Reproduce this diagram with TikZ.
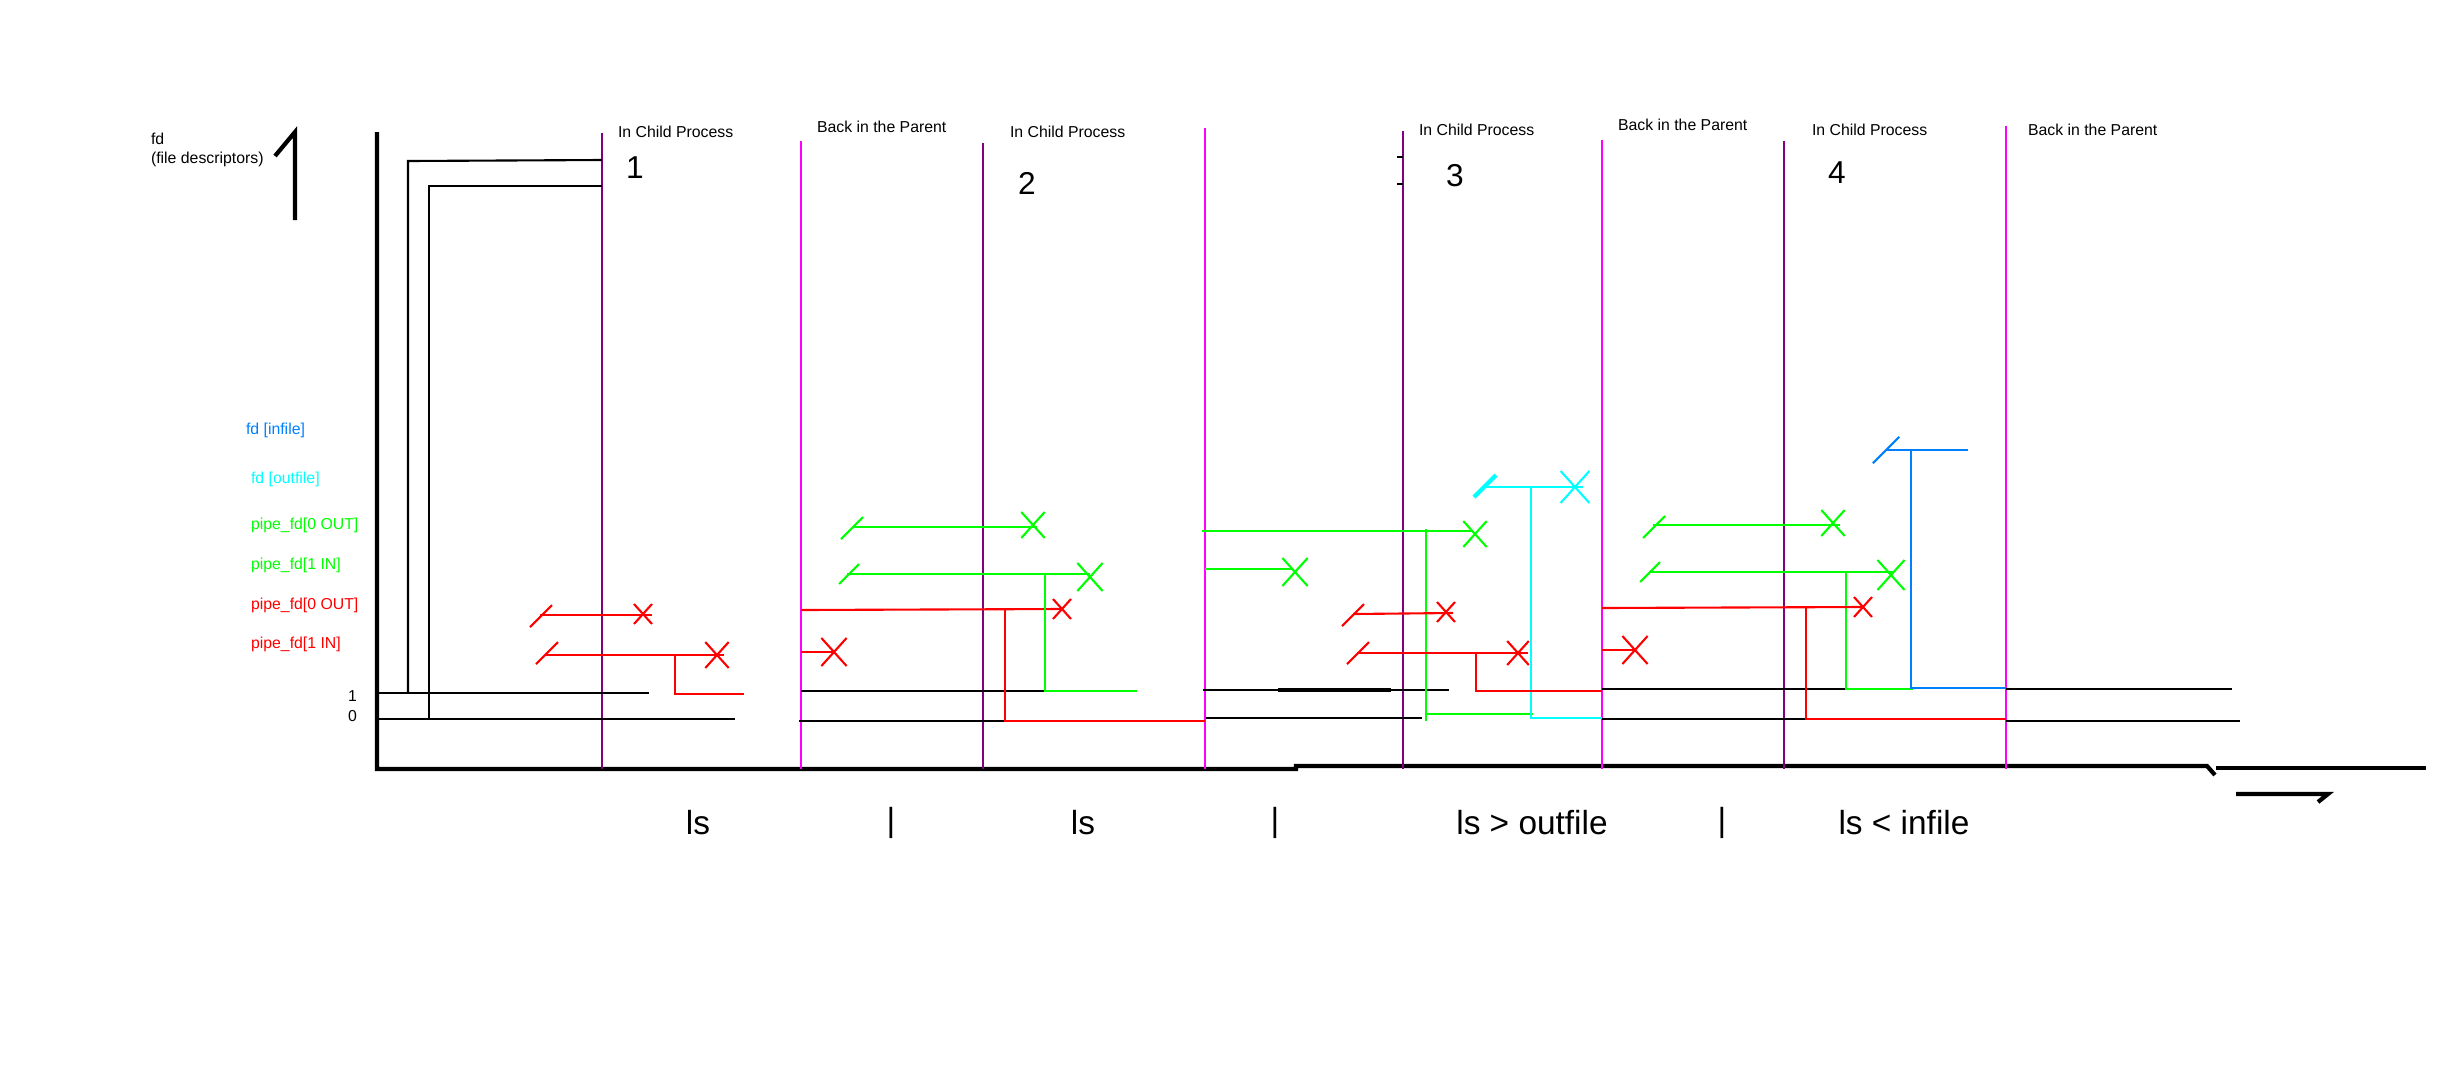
\documentclass[tikz,border=0pt]{standalone}
\usepackage{fontspec}
\setmainfont{Liberation Sans}
\usepackage{tikz}
\usepackage{xcolor}
\usetikzlibrary{arrows.meta}
\definecolor{pgreen}{RGB}{0,255,0}
\definecolor{pred}{RGB}{255,0,0}
\definecolor{pcyan}{RGB}{0,255,255}
\definecolor{pblue}{RGB}{0,128,255}
\definecolor{pmagenta}{RGB}{255,0,255}
\definecolor{ppurple}{RGB}{128,0,128}

\begin{document}
\begin{tikzpicture}[x=0.01cm,y=-0.01cm,line width=0.6pt,
  small/.style={font=\fontsize{4.5}{5.4}\selectfont,inner sep=0pt,anchor=west},
  digit/.style={font=\fontsize{9}{10}\selectfont,inner sep=0pt},
  cmd/.style={font=\fontsize{9.5}{11}\selectfont,inner sep=0pt},
  xcross/.pic={\draw(-9,-10)--(9,10)(-9,10)--(9,-10);},
  slash/.pic={\draw(-11,11)--(11,-11);}]
\useasboundingbox(0,0)rectangle(2456,1087);
% axes
\draw[line width=1.2pt](377,132)--(377,769)--(1296,769)--(1296,766)--(2207,766)--(2215,775);
\draw[line width=1.2pt](2216,768)--(2426,768);
\draw[line width=1.2pt](2236,794)--(2328,794)--(2318,802);
\draw[line width=1.2pt](275,156)--(295,132)--(295,220);
\node[small](fd)at(150,139){fd};
\node[small](fddesc)at(150,159){(file descriptors)};
\node[small](one)at(347,696){1};
\node[small](zero)at(347,716){0};
% row labels
\node[small,pblue](infile)at(245,430){fd [infile]};
\node[small,pcyan](outfile)at(250,479){fd [outfile]};
\node[small,pgreen](gout)at(250,525){pipe\_fd[0 OUT]};
\node[small,pgreen](gin)at(250,565){pipe\_fd[1 IN]};
\node[small,pred](rout)at(250,605){pipe\_fd[0 OUT]};
\node[small,pred](rin)at(250,644){pipe\_fd[1 IN]};
% dividers
\foreach \x/\t in {602/133,983/143,1403/131,1784/141}
  \draw[ppurple](\x,\t)--(\x,769);
\foreach \x/\t in {801/141,1205/128,1602/140,2006/126}
  \draw[pmagenta](\x,\t)--(\x,769);
\node[small](child1)at(617,132){In Child Process};
\node[small](child2)at(1009,132){In Child Process};
\node[small](child3)at(1418,130){In Child Process};
\node[small](child4)at(1811,130){In Child Process};
\node[small](parent1)at(816,127){Back in the Parent};
\node[small](parent2)at(1617,125){Back in the Parent};
\node[small](parent3)at(2027,130){Back in the Parent};
\node[digit](n1)at(635,168){1};
\node[digit](n2)at(1027,183){2};
\node[digit](n3)at(1455,176){3};
\node[digit](n4)at(1837,173){4};
% fd 0 and 1
\draw(602,160)--(408,161)--(408,693);
\draw(602,186)--(429,186)--(429,719);
\draw(377,693)--(649,693);
\draw(375,719)--(735,719);
\draw(801,691)--(1045,691);
\draw(799,721)--(1005,721);
\draw(1203,690)--(1449,690);
\draw[line width=1pt](1278,690)--(1391,690);
\draw(1206,718)--(1422,718);
\draw(1397,157)--(1403,157)(1397,184)--(1403,184);
\draw(1602,689)--(1846,689);
\draw(1602,719)--(1806,719);
\draw(2006,689)--(2232,689);
\draw(2006,721)--(2240,721);
% first ls
\draw[pred](540,615)--(652,615);
\pic[pred]at(541,616){slash};
\pic[pred]at(643,614){xcross};
\draw[pred](545,655)--(724,655);
\pic[pred]at(547,653){slash};
\pic[pred,scale=1.3]at(717,655){xcross};
\draw[pred](675,655)--(675,694)--(744,694);
% second ls
\draw[pred](801,610)--(1062,609);
\pic[pred]at(1062,609){xcross};
\draw[pred](1005,609)--(1005,721)--(1205,721);
\draw[pred](801,652)--(834,652);
\pic[pred,scale=1.4]at(834,652){xcross};
\draw[pgreen](853,527)--(1037,527);
\pic[pgreen]at(852,528){slash};
\pic[pgreen,scale=1.3]at(1033,525){xcross};
\draw[pgreen](847,574)--(1090,574);
\pic[pgreen,scale=0.9]at(849,574){slash};
\pic[pgreen,scale=1.4]at(1090,577){xcross};
\draw[pgreen](1045,574)--(1045,691)--(1137,691);
% ls > outfile
\draw[pgreen](1202,531)--(1473,531);
\pic[pgreen,scale=1.3]at(1475,534){xcross};
\draw[pgreen](1205,569)--(1293,569);
\pic[pgreen,scale=1.4]at(1295,572){xcross};
\draw[pgreen](1426,529)--(1426,721)(1426,714)--(1533,714);
\draw[pcyan](1485,487)--(1583,487);
\pic[pcyan,line width=1.2pt]at(1485,486){slash};
\pic[pcyan,scale=1.6]at(1575,487){xcross};
\draw[pcyan](1531,487)--(1531,718)--(1602,718);
\draw[pred](1353,614)--(1453,613);
\pic[pred]at(1353,615){slash};
\pic[pred]at(1446,612){xcross};
\draw[pred](1357,653)--(1528,653);
\pic[pred]at(1358,653){slash};
\pic[pred,scale=1.2]at(1518,653){xcross};
\draw[pred](1476,653)--(1476,691)--(1602,691);
% ls < infile
\draw[pgreen](1653,525)--(1840,525);
\pic[pgreen]at(1654,527){slash};
\pic[pgreen,scale=1.3]at(1833,523){xcross};
\draw[pgreen](1649,572)--(1893,572);
\pic[pgreen,scale=0.9]at(1650,572){slash};
\pic[pgreen,scale=1.5]at(1891,575){xcross};
\draw[pgreen](1846,572)--(1846,689)--(1913,689);
\draw[pred](1602,608)--(1863,607);
\pic[pred]at(1863,607){xcross};
\draw[pred](1806,607)--(1806,719)--(2006,719);
\draw[pred](1602,650)--(1635,650);
\pic[pred,scale=1.4]at(1635,650){xcross};
\draw[pblue](1887,450)--(1968,450);
\pic[pblue,scale=1.2]at(1886,450){slash};
\draw[pblue](1911,450)--(1911,688)--(2006,688);
% commands
\node[cmd](ls1)at(698,823){ls};
\node[cmd](bar1)at(891,823){|};
\node[cmd](ls2)at(1083,823){ls};
\node[cmd](bar2)at(1275,823){|};
\node[cmd](ls3)at(1532,823){ls > outfile};
\node[cmd](bar3)at(1722,823){|};
\node[cmd](ls4)at(1904,823){ls < infile};
\end{tikzpicture}
\end{document}
